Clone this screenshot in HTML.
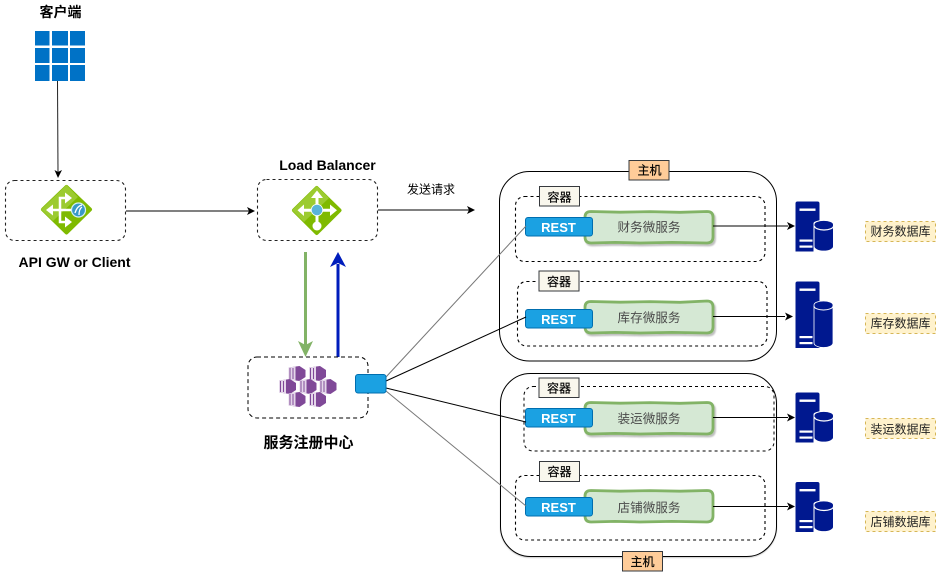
<!DOCTYPE html>
<html><head><meta charset="utf-8"><style>
html,body{margin:0;padding:0;background:#fff}
svg{display:block}
text{font-family:"Liberation Sans","Noto Sans CJK SC",sans-serif;text-anchor:middle}
.b{font-weight:bold;font-size:14px;fill:#000}
.lab{font-size:12px;fill:#000;stroke:#000;stroke-width:.2}
.db{font-size:12px;fill:#222}
.send{font-size:12px;fill:#000}
.svc{font-size:12.6px;fill:#4a4a4a}
.rest{font-size:13px;font-weight:bold;fill:#fff}
.box{fill:none;stroke:#000;stroke-dasharray:3 3;stroke-width:1.1}
.gbox{fill:#d5e8d4;stroke:#82b366;stroke-width:2.8}
</style></head><body>
<svg width="936" height="572" viewBox="0 0 936 572" xmlns="http://www.w3.org/2000/svg">
<defs>
<filter id="s" x="-5%" y="-10%" width="112%" height="130%"><feDropShadow dx="1.5" dy="2" stdDeviation="0.7" flood-color="#000" flood-opacity="0.25"/></filter>
<filter id="h" x="-2%" y="-2%" width="104%" height="104%"><feDropShadow dx="0" dy="1" stdDeviation="0.6" flood-color="#000" flood-opacity="0.2"/></filter>
<g id="db">
<path d="M0 2Q0 0 2 0H22Q24 0 24 2V19A9 3 0 0 0 18 22V50H0Z" fill="#00188f"/>
<rect x="4" y="7" width="16" height="2.400" fill="#fff"/>
<rect x="4" y="38" width="13" height="2.200" fill="#fff"/>
<rect x="4" y="44" width="13" height="2.200" fill="#fff"/>
<path d="M18.500 23A9.500 4 0 0 1 38 23V45A9.500 4.500 0 0 1 18.500 45Z" fill="#00188f" stroke="#fff" stroke-width="1"/>
<path d="M19 24.500A9.500 4 0 0 0 38 24.500" fill="none" stroke="#fff" stroke-width="1.200"/>
</g>
<g id="hex">
<path d="M0 1.500L11 0L17 4V11L11 15L0 13.500Z" fill="#804998"/>
<path d="M0 1.500L7 .5V14.500L0 13.500Z" fill="#e4d6ea"/>
<path d="M1.500 2V13M4.500 2V13" stroke="#804998" stroke-width="1"/>
</g>
</defs>

<!-- client -->
<text class="b" x="60.500" y="17">客户端</text>
<g fill="#0072c6">
<rect x="35" y="31" width="14.500" height="14.500"/><rect x="52" y="31" width="16" height="14.500"/><rect x="70" y="31" width="15" height="14.500"/>
<rect x="35" y="48" width="14.500" height="15"/><rect x="52" y="48" width="16" height="15"/><rect x="70" y="48" width="15" height="15"/>
<rect x="35" y="65" width="14.500" height="16"/><rect x="52" y="65" width="16" height="16"/><rect x="70" y="65" width="15" height="16"/>
</g>
<path d="M57.500 81L58 172" stroke="#222" fill="none"/>
<path d="M54.500 170L58 172L62 170L58 178Z" fill="#000"/>

<!-- api gw -->
<rect x="5.500" y="180.500" width="120" height="60" rx="9" fill="#fff" stroke="#222" stroke-width="1.100" stroke-dasharray="3 3"/>
<path d="M66.500 187L90 209.500L66.500 232.500L43 209.500Z" fill="#7fba00" stroke="#7fba00" stroke-width="4" stroke-linejoin="round"/>
<path d="M66.500 185L41 209.500L53 221L78 197Z" fill="#9ccb30"/>
<path d="M50 210H72M70 198H60V222H70" fill="none" stroke="#fff" stroke-width="2.500"/>
<path d="M46 210L53 204.500V215.500ZM72 198L65 192.500V203.500ZM72 222L65 216.500V227.500Z" fill="#fff"/>
<circle cx="78.500" cy="210" r="7" fill="#3999c6" stroke="#d5eef7" stroke-width="1.200"/>
<path d="M75 213Q77 206 82 205M79 215Q79 209 82 207" stroke="#fff" fill="none" stroke-width="1.300"/>
<text class="b" x="74.500" y="267">API GW or Client</text>
<path d="M126 211H250" stroke="#000" fill="none"/>
<path d="M247 207L255 211L247 215L249 211Z" fill="#000"/>

<!-- LB -->
<text class="b" x="327.500" y="170">Load Balancer</text>
<rect x="257.500" y="179.500" width="120" height="61" rx="9" fill="#fff" stroke="#222" stroke-width="1.100" stroke-dasharray="3 3"/>
<path d="M316.700 188L339.500 210.300L316.700 233L294 210.300Z" fill="#7fba00" stroke="#7fba00" stroke-width="4" stroke-linejoin="round"/>
<path d="M316.700 186L292 210.300L304 222L329 198Z" fill="#9ccb30"/>
<path d="M317 196V226M302 210.300H332" stroke="#fff" stroke-width="3" fill="none"/>
<path d="M317 190.500L323 198H311ZM297.500 210.300L304 204.500V216ZM337 210.300L330 204.500V216Z" fill="#fff"/>
<circle cx="317" cy="226" r="4.500" fill="#fff"/>
<circle cx="317" cy="210" r="5.700" fill="#59b4d9" stroke="#fff" stroke-width=".8"/>
<path d="M378 210H469" stroke="#000" fill="none"/>
<path d="M467 206L475 210L467 214L469 210Z" fill="#000"/>
<text class="send" x="431" y="193.500">发送请求</text>

<!-- arrows -->
<path d="M305.500 252V346" stroke="#82b366" stroke-width="3" fill="none"/>
<path d="M298 341L305.500 357L313 341L305.500 345Z" fill="#82b366"/>
<path d="M338 357V264" stroke="#001dbc" stroke-width="3" fill="none"/>
<path d="M330 267L338 252L346 267L338 263Z" fill="#001dbc"/>

<!-- registry -->
<rect x="248" y="357" width="120" height="61" rx="9" fill="#fff" stroke="#000" stroke-dasharray="4 3"/>
<use href="#hex" x="288.500" y="366"/><use href="#hex" x="309" y="366"/>
<use href="#hex" x="279" y="379"/><use href="#hex" x="299.500" y="379"/><use href="#hex" x="319.500" y="379"/>
<use href="#hex" x="288.500" y="392"/><use href="#hex" x="309" y="392"/>
<text class="b" x="308.500" y="447.500" style="font-size:15px">服务注册中心</text>

<!-- hosts -->
<rect x="499.500" y="171.500" width="277" height="189.500" rx="30" fill="#fff" stroke="#000"/>
<rect x="500.500" y="373.500" width="276" height="183" rx="30" fill="#fff" stroke="#000" filter="url(#h)"/>
<rect x="629" y="160.500" width="40" height="19.500" fill="#ffcc99" stroke="#36393d"/>
<text class="lab" x="649.500" y="174.500">主机</text>
<rect x="622.500" y="551.500" width="40" height="19.500" fill="#ffcc99" stroke="#36393d"/>
<text class="lab" x="642.500" y="566">主机</text>

<!-- containers -->
<rect class="box" x="515.500" y="196.500" width="249.500" height="65" rx="9"/>
<rect class="box" x="517.500" y="281.500" width="249.500" height="64.500" rx="9"/>
<rect x="524" y="386.500" width="250" height="64.500" rx="9" fill="none" stroke="#000" stroke-dasharray="3 3"/>
<rect class="box" x="515.500" y="475.500" width="249.500" height="64.500" rx="9"/>

<g fill="#f9f7ed" stroke="#36393d">
<rect x="539.500" y="186.500" width="40" height="19.500"/>
<rect x="539" y="271" width="40" height="20"/>
<rect x="539" y="378" width="40" height="19.500"/>
<rect x="539.500" y="461.500" width="40" height="20"/>
</g>
<text class="lab" x="559.500" y="201.500">容器</text><text class="lab" x="559" y="286">容器</text><text class="lab" x="559" y="392.500">容器</text><text class="lab" x="559.500" y="476">容器</text>

<!-- services -->
<path class="gbox" filter="url(#s)" d="M591 211.500L620 212.200L650 211.600L680 212.300L707 211.500Q713 211.500 713 217V237Q713 243 707 243L672 242.400L640 243L615 242.400L591 243Q585 243 585 237V217Q585 211.500 591 211.500Z"/>
<path class="gbox" filter="url(#s)" d="M591 301.500L620 302.200L650 301.600L680 302.300L707 301Q713 301 713 307V327Q713 333 707 333L672 332.400L640 333L615 332.400L591 333Q585 333 585 327V307Q585 301.500 591 301.500Z"/>
<path class="gbox" filter="url(#s)" d="M591 402.500L620 403.200L650 402.600L680 403.300L707 402.500Q713 402.500 713 408V428Q713 434 707 434L672 433.400L640 434L615 433.400L591 434Q585 434 585 428V408Q585 402.500 591 402.500Z"/>
<path class="gbox" d="M591 490.500L620 491.200L650 490.600L680 491.200L707 490.500Q713 490.500 713 496V516Q713 522 707 522L672 521.400L640 522L615 521.400L591 522Q585 522 585 516V496Q585 490.500 591 490.500Z"/>
<text class="svc" x="649" y="231.500">财务微服务</text>
<text class="svc" x="649" y="322">库存微服务</text>
<text class="svc" x="649" y="423">装运微服务</text>
<text class="svc" x="649" y="512">店铺微服务</text>

<!-- REST -->
<g fill="#1ba1e2" stroke="#006eaf">
<rect x="525.500" y="217.500" width="67" height="18.500" rx="2.500"/>
<rect x="525.500" y="309.500" width="67" height="18.500" rx="2.500"/>
<rect x="525.500" y="408.500" width="67" height="18.500" rx="2.500"/>
<rect x="525.500" y="497.500" width="67" height="18.500" rx="2.500"/>
</g>
<text class="rest" x="558.500" y="232">REST</text>
<text class="rest" x="558.500" y="324">REST</text>
<text class="rest" x="558.500" y="423">REST</text>
<text class="rest" x="558.500" y="512">REST</text>

<!-- links -->
<g fill="none" stroke-width="1">
<path d="M386 377L526 226" stroke="#777"/>
<path d="M386 381L526 317" stroke="#000"/>
<path d="M386 388L526 422" stroke="#000"/>
<path d="M386 391L526 506" stroke="#777"/>
<path d="M713 226H788" stroke="#000"/>
<path d="M713 316.500H785" stroke="#000"/>
<path d="M713 417.500H788" stroke="#000"/>
<path d="M713 506.500H788" stroke="#000"/>
</g>
<g fill="#000">
<path d="M787 222L795 226L787 230L789 226Z"/>
<path d="M785 312.500L793 316.500L785 320.500L787 316.500Z"/>
<path d="M787 413.500L795 417.500L787 421.500L789 417.500Z"/>
<path d="M787 502.500L795 506.500L787 510.500L789 506.500Z"/>
</g>
<rect x="355.500" y="374.500" width="30.500" height="18.500" rx="2.500" fill="#1ba1e2" stroke="#006eaf"/>

<!-- DB -->
<use href="#db" x="795.500" y="201.500"/>
<use href="#db" x="795.500" y="392.500"/>
<use href="#db" x="795.500" y="482"/>
<path d="M795.500 283.500Q795.500 281.500 797.500 281.500H817.500Q819.500 281.500 819.500 283.500V348H795.500Z" fill="#00188f"/>
<rect x="799.500" y="288.500" width="16" height="2.400" fill="#fff"/>
<rect x="799.500" y="336" width="13" height="2.200" fill="#fff"/>
<rect x="799.500" y="342" width="13" height="2.200" fill="#fff"/>
<path d="M814 305A9.500 4 0 0 1 833 305V343A9.500 4.500 0 0 1 814 343Z" fill="#00188f" stroke="#fff" stroke-width=".8"/>
<path d="M814 306A9.500 4 0 0 0 833 306" fill="none" stroke="#fff" stroke-width="1"/>

<!-- DB labels -->
<g fill="#fff2cc" stroke="#d6b656" stroke-dasharray="3 3">
<rect x="865.500" y="221.500" width="70" height="20"/>
<rect x="865.500" y="313.500" width="70" height="20"/>
<rect x="865.500" y="418.500" width="70" height="20"/>
<rect x="865.500" y="511.500" width="70" height="20"/>
</g>
<text class="db" x="900.500" y="235.600">财务数据库</text>
<text class="db" x="900.500" y="327.600">库存数据库</text>
<text class="db" x="900.500" y="433.600">装运数据库</text>
<text class="db" x="900.500" y="526">店铺数据库</text>
</svg>
</body></html>
